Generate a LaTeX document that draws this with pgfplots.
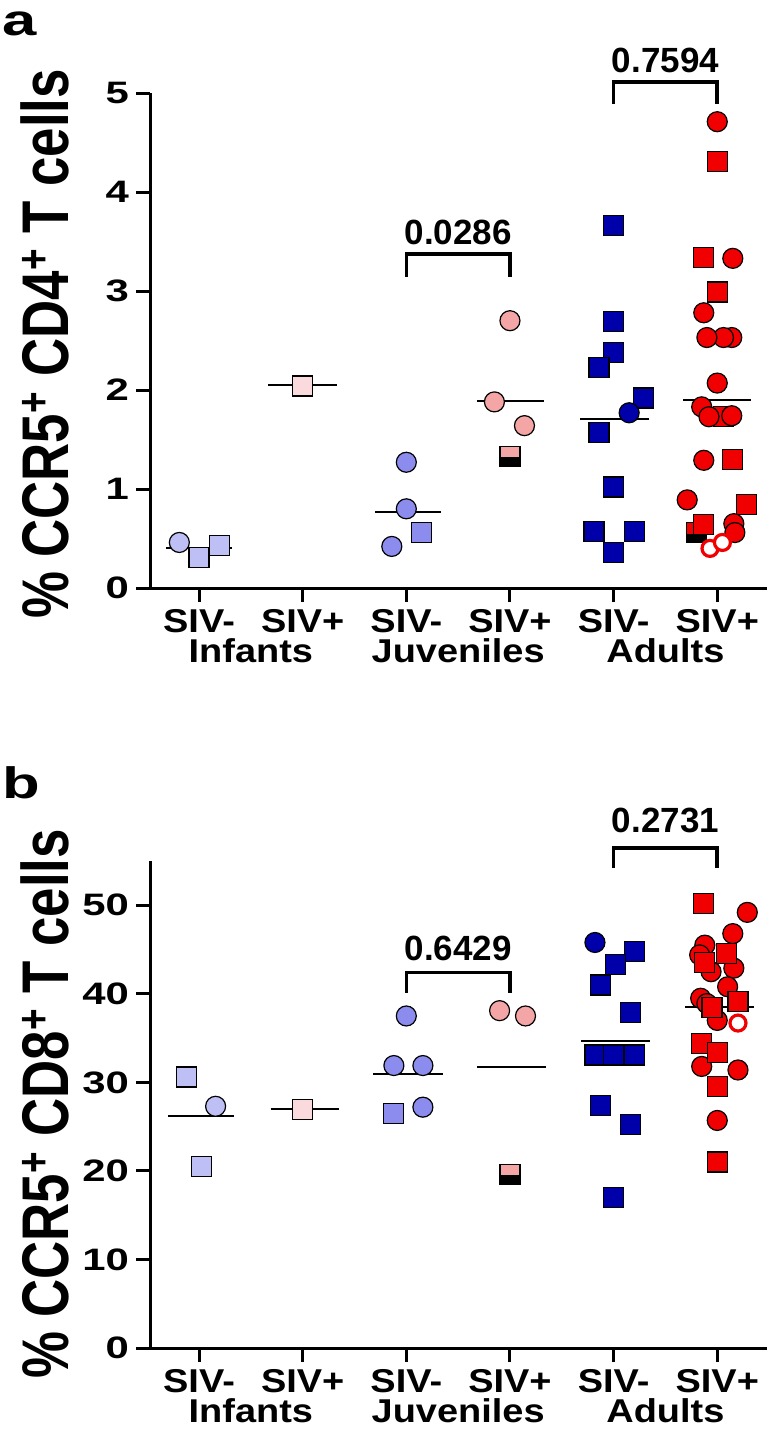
\documentclass[border=0pt]{standalone}
\usepackage{fontspec}
\setmainfont{Liberation Sans}
\newfontfamily\tickfont[FakeStretch=1.35]{Liberation Sans}
\newfontfamily\labfont[FakeStretch=1.15]{Liberation Sans}
\newfontfamily\ylabfont[FakeStretch=0.8]{Liberation Sans}
\newfontfamily\panfont[FakeStretch=1.4]{Liberation Sans}
\usepackage{pgfplots}
\pgfplotsset{compat=1.18}

\definecolor{infneg}{RGB}{190,192,245}
\definecolor{infpos}{RGB}{250,218,220}
\definecolor{juvneg}{RGB}{140,140,238}
\definecolor{juvpos}{RGB}{244,166,166}
\definecolor{adneg}{RGB}{0,0,170}
\definecolor{adpos}{RGB}{240,0,0}

\pgfdeclareplotmark{halfsq}{%
  \pgfpathrectangle{\pgfqpoint{-\pgfplotmarksize}{-\pgfplotmarksize}}{\pgfqpoint{2\pgfplotmarksize}{2\pgfplotmarksize}}%
  \pgfusepath{fill}%
  \begin{pgfscope}%
  \pgfsetfillcolor{black}%
  \pgfpathrectangle{\pgfqpoint{-\pgfplotmarksize}{-\pgfplotmarksize}}{\pgfqpoint{2\pgfplotmarksize}{0.9\pgfplotmarksize}}%
  \pgfusepath{fill}%
  \end{pgfscope}%
  \pgfpathrectangle{\pgfqpoint{-\pgfplotmarksize}{-\pgfplotmarksize}}{\pgfqpoint{2\pgfplotmarksize}{2\pgfplotmarksize}}%
  \pgfusepath{stroke}%
}

\newcommand\tickfs{\tickfont\bfseries\fontsize{15.5pt}{18pt}\selectfont}
\newcommand\labfs{\labfont\bfseries\fontsize{16.5pt}{18pt}\selectfont}
\newcommand\brkfs{\bfseries\fontsize{17.5pt}{20pt}\selectfont}
\newcommand\ylabfs{\ylabfont\bfseries\fontsize{33pt}{36pt}\selectfont}
\newcommand\panfs{\panfont\bfseries\fontsize{22pt}{24pt}\selectfont}

\pgfplotsset{
  panel/.style={scale only axis, width=308.5pt, xmin=-0.473, xmax=5.48, ymin=0,
    axis x line*=bottom, axis y line*=left,
    axis line style={line width=1.5pt, -},
    tick align=outside, major tick length=7pt,
    tick style={line width=1.5pt, black},
    xtick={0,1,2,3,4,5}, xticklabels={SIV-,SIV+,SIV-,SIV+,SIV-,SIV+},
    xticklabel style={font=\labfs},
    yticklabel style={font=\tickfs},
    /pgf/number format/assume math mode=true,
    clip=false},
  ptc/.style={only marks, mark=*, mark size=5pt, mark options={draw=black, fill=#1, line width=0.6pt}},
  pts/.style={only marks, mark=square*, mark size=5pt, mark options={draw=black, fill=#1, line width=0.6pt}},
  pth/.style={only marks, mark=halfsq, mark size=5pt, mark options={draw=black, fill=#1, line width=0.6pt}},
  pto/.style={only marks, mark=*, mark size=4pt, mark options={draw=adpos, fill=white, line width=1.6pt}},
  med/.style={no marks, black, line width=1pt},
  brk/.style={no marks, black, line width=1.8pt, line join=miter},
}

\begin{document}
\begin{tikzpicture}
\useasboundingbox (0,0) rectangle (388pt,-724.5pt);

% ---------------- panel a ----------------
\begin{axis}[panel, at={(75pt,-294pt)}, anchor=south west,
  height=247.5pt, ymax=5, ytick={0,1,2,3,4,5}]
% Infants SIV-
\addplot[pts=infneg] coordinates {(0,0.31) (0.2,0.43)};
\addplot[ptc=infneg] coordinates {(-0.19,0.46)};
\addplot[med] coordinates {(-0.32,0.40) (0.32,0.40)};
% Infants SIV+
\addplot[pts=infpos] coordinates {(1,2.04)};
\addplot[med] coordinates {(0.67,2.05) (1.33,2.05)};
% Juveniles SIV-
\addplot[ptc=juvneg] coordinates {(2,1.27) (2,0.80) (1.86,0.42)};
\addplot[pts=juvneg] coordinates {(2.15,0.56)};
\addplot[med] coordinates {(1.70,0.765) (2.33,0.765)};
% Juveniles SIV+
\addplot[ptc=juvpos] coordinates {(3,2.70) (2.85,1.88) (3.14,1.64)};
\addplot[pth=juvpos] coordinates {(3,1.33)};
\addplot[med] coordinates {(2.68,1.89) (3.33,1.89)};
% Adults SIV-
\addplot[pts=adneg] coordinates {(4,3.66) (4,2.69) (4,2.38) (3.86,2.23) (4.29,1.92)
  (3.86,1.57) (4,1.02) (3.81,0.57) (4.2,0.57) (4,0.36)};
\addplot[ptc=adneg] coordinates {(4.15,1.77)};
\addplot[med] coordinates {(3.68,1.71) (4.34,1.71)};
% Adults SIV+
\addplot[pth=adpos] coordinates {(4.80,0.56)};
\addplot[pts=adpos] coordinates {(5,4.31) (4.87,3.34) (5,2.99) (5.06,1.73) (5.15,1.30)
  (5.28,0.84) (4.87,0.64)};
\addplot[ptc=adpos] coordinates {(5,4.71) (5.15,3.33) (4.87,2.78) (5.14,2.53) (5.06,2.53)
  (4.90,2.53) (5,2.07) (4.85,1.83) (4.92,1.73) (5.14,1.74) (4.87,1.29) (4.71,0.89)
  (5.16,0.65) (5.17,0.56)};
\addplot[pto] coordinates {(4.93,0.40) (5.05,0.46)};
\addplot[med] coordinates {(4.67,1.90) (5.33,1.90)};
% brackets
\addplot[brk] coordinates {(2,3.14) (2,3.375) (3,3.375) (3,3.14)};
\node[font=\brkfs] at (axis cs:2.5,3.59) {0.0286};
\addplot[brk] coordinates {(4,4.89) (4,5.11) (5,5.11) (5,4.89)};
\node[font=\brkfs] at (axis cs:4.5,5.33) {0.7594};
% group labels
\node[font=\labfs, anchor=base] at (axis cs:0.5,0) [yshift=-37pt] {Infants};
\node[font=\labfs, anchor=base] at (axis cs:2.5,0) [yshift=-37pt] {Juveniles};
\node[font=\labfs, anchor=base] at (axis cs:4.5,0) [yshift=-37pt] {Adults};
\end{axis}

% ---------------- panel b ----------------
\begin{axis}[panel, at={(75pt,-674pt)}, anchor=south west,
  height=243.5pt, ymax=55, ytick={0,10,20,30,40,50}]
% Infants SIV-
\addplot[pts=infneg] coordinates {(-0.12,30.6) (0.02,20.5)};
\addplot[ptc=infneg] coordinates {(0.16,27.3)};
\addplot[med] coordinates {(-0.30,26.2) (0.34,26.2)};
% Infants SIV+
\addplot[pts=infpos] coordinates {(1,26.9)};
\addplot[med] coordinates {(0.69,27.0) (1.35,27.0)};
% Juveniles SIV-
\addplot[pts=juvneg] coordinates {(1.88,26.5)};
\addplot[ptc=juvneg] coordinates {(2,37.5) (1.88,31.9) (2.16,31.9) (2.16,27.2)};
\addplot[med] coordinates {(1.68,31.0) (2.35,31.0)};
% Juveniles SIV+
\addplot[ptc=juvpos] coordinates {(2.90,38.1) (3.15,37.5)};
\addplot[pth=juvpos] coordinates {(3,19.6)};
\addplot[med] coordinates {(2.68,31.7) (3.35,31.7)};
% Adults SIV-
\addplot[ptc=adneg] coordinates {(3.82,45.8)};
\addplot[pts=adneg] coordinates {(4.2,44.8) (4.02,43.3) (3.87,41.0) (4.16,37.9)
  (3.82,33.1) (4,33.1) (4.2,33.1) (3.87,27.4) (4.16,25.2) (4,17.0)};
\addplot[med] coordinates {(3.69,34.7) (4.35,34.7)};
% Adults SIV+
\addplot[ptc=adpos] coordinates {(5.29,49.2) (5.15,46.8) (4.88,45.5) (4.83,44.4)
  (4.94,42.5) (5.16,42.9) (5.1,40.8) (4.84,39.5) (4.9,38.9) (5,37.0)
  (4.85,31.8) (5.2,31.4) (5,25.7)};
\addplot[pts=adpos] coordinates {(4.87,50.2) (5.09,44.6) (4.88,43.5) (4.95,38.5)
  (5.2,39.1) (4.85,34.4) (5,33.4) (5,29.5) (5,21.0)};
\addplot[pto] coordinates {(5.2,36.7)};
\addplot[med] coordinates {(4.69,38.5) (5.35,38.5)};
% brackets
\addplot[brk] coordinates {(2,40.1) (2,42.4) (3,42.4) (3,40.1)};
\node[font=\brkfs] at (axis cs:2.5,45.1) {0.6429};
\addplot[brk] coordinates {(4,54.2) (4,56.5) (5,56.5) (5,54.2)};
\node[font=\brkfs] at (axis cs:4.5,59.6) {0.2731};
% group labels
\node[font=\labfs, anchor=base] at (axis cs:0.5,0) [yshift=-37pt] {Infants};
\node[font=\labfs, anchor=base] at (axis cs:2.5,0) [yshift=-37pt] {Juveniles};
\node[font=\labfs, anchor=base] at (axis cs:4.5,0) [yshift=-37pt] {Adults};
\end{axis}

% axis titles and panel letters
\node[rotate=90, anchor=base, inner sep=0pt, font=\ylabfs] at (34pt,-172pt)
  {\% CCR5\textsuperscript{+} CD4\textsuperscript{+} T cells};
\node[rotate=90, anchor=base, inner sep=0pt, font=\ylabfs] at (34pt,-552pt)
  {\% CCR5\textsuperscript{+} CD8\textsuperscript{+} T cells};
\node[anchor=base west, inner sep=0pt, font=\panfs] at (1pt,-18pt) {a};
\node[anchor=base west, inner sep=0pt, font=\panfs] at (1pt,-399pt) {b};
\end{tikzpicture}
\end{document}
